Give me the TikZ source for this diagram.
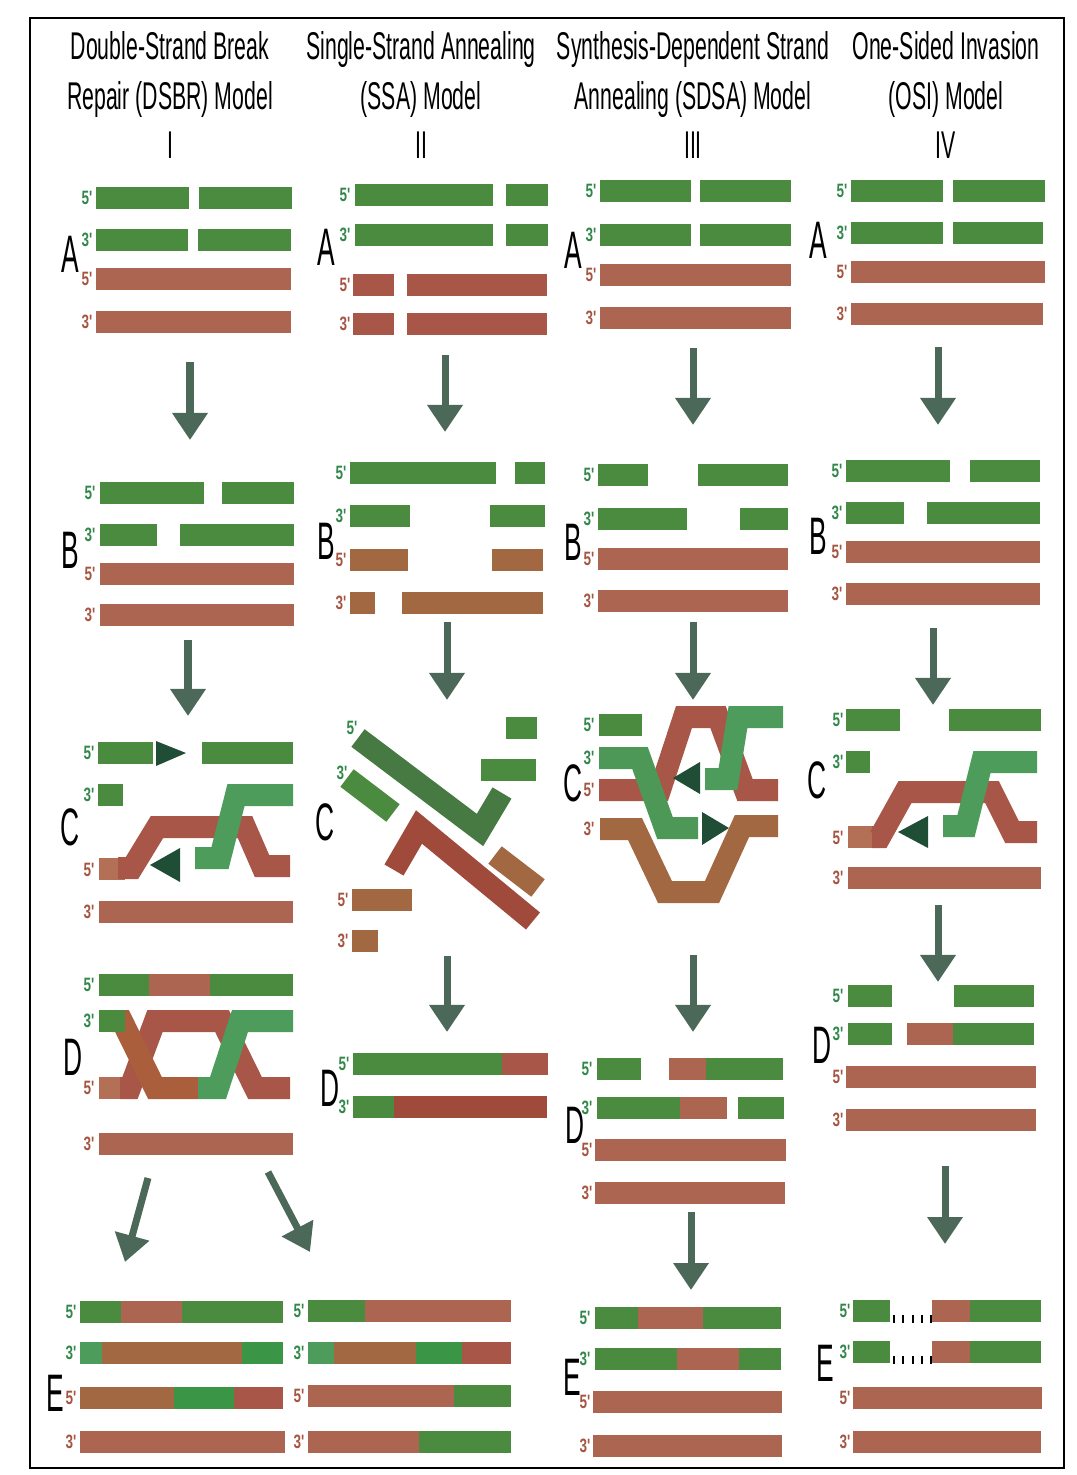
\documentclass[tikz,border=0pt]{standalone}
\usepackage{fontspec}
\usetikzlibrary{arrows.meta}
\newfontfamily\headfont[FakeStretch=0.55]{Liberation Sans}
\newfontfamily\stagefont[FakeStretch=0.5]{Liberation Sans}
\newfontfamily\endfont[FakeStretch=0.7]{Liberation Sans}
\definecolor{dnagreen}{RGB}{74,139,64}
\definecolor{invgreen}{RGB}{78,156,92}
\definecolor{brightgreen}{RGB}{58,150,70}
\definecolor{darkgreen}{RGB}{70,122,66}
\definecolor{dnabrown}{RGB}{171,101,80}
\definecolor{loopbrown}{RGB}{168,86,72}
\definecolor{tailbrown}{RGB}{180,112,86}
\definecolor{orangebrown}{RGB}{162,104,66}
\definecolor{redbrown}{RGB}{160,74,60}
\definecolor{tipgreen}{RGB}{31,77,53}
\definecolor{flowgray}{RGB}{76,104,88}
\definecolor{endgreen}{RGB}{50,135,75}
\definecolor{endbrown}{RGB}{165,85,65}
\tikzset{
	strand/.style={line width=0.22cm},
	flow/.style={line width=0.07cm,draw=flowgray,-{Triangle[width=0.34cm,length=0.27cm]}},
	head/.style={font=\headfont\fontsize{11}{14.2}\selectfont,align=center},
	stage/.style={font=\stagefont\fontsize{15}{18}\selectfont,inner sep=0pt},
	endg/.style={font=\endfont\bfseries\fontsize{5.5}{6}\selectfont,text=endgreen,anchor=east,inner sep=0pt},
	endb/.style={endg,text=endbrown},
}
\newcommand{\dna}[4]{\draw[strand,#1] (#2,#4) -- (#3,#4);}
\newcommand{\tip}[3]{\fill[tipgreen] #1 -- #2 -- #3 -- cycle;}
\newcommand{\strandends}[6]{%
	\node[endg] (#1g5) at (#2,#3) {5'};
	\node[endg] (#1g3) at (#2,#4) {3'};
	\node[endb] (#1b5) at (#2,#5) {5'};
	\node[endb] (#1b3) at (#2,#6) {3'};}
\begin{document}
\begin{tikzpicture}[x={(0.01cm,0)},y={(0,-0.01cm)}]
	\useasboundingbox (0,0) rectangle (1077,1475);
	\draw[line width=0.025cm] (30,18) rectangle (1064,1468);

	\node[head] (headI) at (170,95) {Double-Strand Break\\Repair (DSBR) Model\\I};
	\node[head] (headII) at (421,95) {Single-Strand Annealing\\(SSA) Model\\II};
	\node[head] (headIII) at (693,95) {Synthesis-Dependent Strand\\Annealing (SDSA) Model\\III};
	\node[head] (headIV) at (946,95) {One-Sided Invasion\\(OSI) Model\\IV};

	% model I
	\node[stage] (IA) at (70,254) {A};
	\dna{dnagreen}{96}{189}{198} \dna{dnagreen}{199}{292}{198}
	\dna{dnagreen}{96}{188}{240} \dna{dnagreen}{198}{291}{240}
	\dna{dnabrown}{96}{291}{279}
	\dna{dnabrown}{96}{291}{322}
	\strandends{IA}{93}{198}{240}{279}{322}
	\draw[flow] (190,362) -- (190,440);

	\node[stage] (IB) at (70,550) {B};
	\dna{dnagreen}{100}{204}{493} \dna{dnagreen}{222}{294}{493}
	\dna{dnagreen}{100}{157}{535} \dna{dnagreen}{180}{294}{535}
	\dna{dnabrown}{100}{294}{574}
	\dna{dnabrown}{100}{294}{615}
	\strandends{IB}{96}{493}{535}{574}{615}
	\draw[flow] (188,640) -- (188,716);

	\node[stage] (IC) at (70,827) {C};
	\dna{dnagreen}{98}{153}{753} \dna{dnagreen}{202}{293}{753}
	\tip{(156,741)}{(186,753)}{(156,766)}
	\dna{dnagreen}{98}{123}{795}
	\dna{tailbrown}{99}{125}{869}
	\draw[strand,loopbrown] (118,868) -- (132,868) -- (157,827) -- (245,827) -- (262,866) -- (290,866);
	\tip{(180,848)}{(150,865)}{(180,882)}
	\draw[strand,invgreen] (293,795) -- (236,795) -- (220,858) -- (195,858);
	\dna{dnabrown}{99}{293}{912}
	\strandends{IC}{95}{753}{795}{870}{912}

	\node[stage] (ID) at (73,1057) {D};
	\dna{dnagreen}{99}{149}{985} \dna{dnabrown}{149}{210}{985} \dna{dnagreen}{210}{293}{985}
	\dna{tailbrown}{99}{127}{1088}
	\draw[strand,loopbrown] (120,1088) -- (130,1088) -- (155,1021) -- (222,1021) -- (255,1088) -- (290,1088);
	\draw[strand,orangebrown!90!red] (112,1021) -- (122,1021) -- (155,1088) -- (198,1088);
	\dna{dnagreen}{99}{125}{1021}
	\draw[strand,invgreen] (198,1088) -- (218,1088) -- (240,1021) -- (293,1021);
	\dna{dnabrown}{99}{293}{1144}
	\strandends{ID}{95}{985}{1021}{1088}{1144}
	\draw[flow] (148,1178) -- (125,1262);
	\draw[flow] (268,1172) -- (310,1252);

	\node[stage] (IE) at (55,1393) {E};
	\dna{dnagreen}{80}{121}{1312} \dna{dnabrown}{121}{182}{1312} \dna{dnagreen}{182}{283}{1312}
	\dna{invgreen}{80}{102}{1353} \dna{orangebrown}{102}{242}{1353} \dna{brightgreen}{242}{283}{1353}
	\dna{orangebrown}{80}{174}{1398} \dna{brightgreen}{174}{234}{1398} \dna{loopbrown}{234}{283}{1398}
	\dna{dnabrown}{80}{285}{1442}
	\strandends{IEl}{77}{1312}{1353}{1398}{1442}
	\dna{dnagreen}{308}{365}{1311} \dna{dnabrown}{365}{511}{1311}
	\dna{invgreen}{308}{334}{1353} \dna{orangebrown}{334}{416}{1353} \dna{brightgreen}{416}{462}{1353} \dna{loopbrown}{462}{511}{1353}
	\dna{dnabrown}{308}{454}{1396} \dna{dnagreen}{454}{511}{1396}
	\dna{dnabrown}{308}{419}{1442} \dna{dnagreen}{419}{511}{1442}
	\strandends{IEr}{305}{1311}{1353}{1396}{1442}

	% model II
	\node[stage] (IIA) at (326,247) {A};
	\dna{dnagreen}{355}{493}{195} \dna{dnagreen}{506}{548}{195}
	\dna{dnagreen}{355}{493}{235} \dna{dnagreen}{506}{548}{235}
	\dna{loopbrown}{353}{394}{285} \dna{loopbrown}{407}{547}{285}
	\dna{loopbrown}{353}{394}{324} \dna{loopbrown}{407}{547}{324}
	\strandends{IIA}{351}{195}{235}{285}{324}
	\draw[flow] (445,355) -- (445,432);

	\node[stage] (IIB) at (326,541) {B};
	\dna{dnagreen}{350}{496}{473} \dna{dnagreen}{515}{545}{473}
	\dna{dnagreen}{350}{410}{516} \dna{dnagreen}{490}{545}{516}
	\dna{orangebrown}{350}{408}{560} \dna{orangebrown}{492}{543}{560}
	\dna{orangebrown}{350}{375}{603} \dna{orangebrown}{402}{543}{603}
	\strandends{IIB}{347}{473}{516}{560}{603}
	\draw[flow] (447,622) -- (447,700);

	\node[stage] (IIC) at (325,822) {C};
	\dna{dnagreen}{506}{537}{728}
	\dna{dnagreen}{481}{536}{770}
	\draw[strand,darkgreen] (358,738) -- (480,830) -- (502,793);
	\draw[strand,dnagreen] (347,778) -- (393,813);
	\draw[strand,redbrown] (394,870) -- (419,827) -- (533,921);
	\draw[strand,orangebrown] (495,855) -- (538,888);
	\dna{orangebrown}{352}{412}{900}
	\dna{orangebrown}{352}{378}{941}
	\node[endg] (IICg5) at (358,728) {5'};
	\node[endg] (IICg3) at (348,773) {3'};
	\node[endb] (IICb5) at (349,900) {5'};
	\node[endb] (IICb3) at (349,941) {3'};
	\draw[flow] (447,956) -- (447,1032);

	\node[stage] (IID) at (330,1088) {D};
	\dna{dnagreen}{353}{502}{1064} \dna{loopbrown}{502}{548}{1064}
	\dna{dnagreen}{353}{394}{1107} \dna{redbrown}{394}{547}{1107}
	\node[endg] (IIDg5) at (350,1064) {5'};
	\node[endg] (IIDg3) at (350,1107) {3'};

	% model III
	\node[stage] (IIIA) at (573,250) {A};
	\dna{dnagreen}{600}{691}{191} \dna{dnagreen}{700}{791}{191}
	\dna{dnagreen}{600}{691}{235} \dna{dnagreen}{700}{791}{235}
	\dna{dnabrown}{600}{791}{275}
	\dna{dnabrown}{600}{791}{318}
	\strandends{IIIA}{597}{191}{235}{275}{318}
	\draw[flow] (693,348) -- (693,425);

	\node[stage] (IIIB) at (573,542) {B};
	\dna{dnagreen}{598}{648}{475} \dna{dnagreen}{698}{788}{475}
	\dna{dnagreen}{598}{687}{519} \dna{dnagreen}{740}{788}{519}
	\dna{dnabrown}{598}{788}{559}
	\dna{dnabrown}{598}{788}{601}
	\strandends{IIIB}{595}{475}{519}{559}{601}
	\draw[flow] (693,622) -- (693,700);

	\node[stage] (IIIC) at (573,783) {C};
	\dna{dnagreen}{599}{642}{725}
	\draw[strand,loopbrown] (599,790) -- (660,790) -- (684,717) -- (718,717) -- (745,790) -- (778,790);
	\draw[strand,orangebrown] (600,829) -- (635,829) -- (665,892) -- (712,892) -- (742,826) -- (778,826);
	\draw[strand,invgreen!80!dnagreen] (599,758) -- (640,758) -- (665,828) -- (698,828);
	\tip{(702,812)}{(729,828)}{(702,845)}
	\draw[strand,invgreen] (783,717) -- (738,717) -- (728,779) -- (705,779);
	\tip{(700,762)}{(673,778)}{(700,794)}
	\strandends{IIIC}{595}{725}{758}{790}{829}
	\draw[flow] (693,955) -- (693,1032);

	\node[stage] (IIID) at (575,1125) {D};
	\dna{dnagreen}{597}{641}{1069} \dna{dnabrown}{669}{706}{1069} \dna{dnagreen}{706}{783}{1069}
	\dna{dnagreen}{597}{680}{1108} \dna{dnabrown}{680}{727}{1108} \dna{dnagreen}{738}{784}{1108}
	\dna{dnabrown}{595}{786}{1150}
	\dna{dnabrown}{595}{785}{1193}
	\strandends{IIID}{593}{1069}{1108}{1150}{1193}
	\draw[flow] (691,1212) -- (691,1290);

	\node[stage] (IIIE) at (572,1377) {E};
	\dna{dnagreen}{595}{638}{1318} \dna{dnabrown}{638}{703}{1318} \dna{dnagreen}{703}{781}{1318}
	\dna{dnagreen}{595}{677}{1359} \dna{dnabrown}{677}{739}{1359} \dna{dnagreen}{739}{781}{1359}
	\dna{dnabrown}{593}{782}{1402}
	\dna{dnabrown}{593}{782}{1446}
	\strandends{IIIE}{591}{1318}{1359}{1402}{1446}

	% model IV
	\node[stage] (IVA) at (818,240) {A};
	\dna{dnagreen}{851}{943}{191} \dna{dnagreen}{953}{1045}{191}
	\dna{dnagreen}{851}{943}{233} \dna{dnagreen}{953}{1043}{233}
	\dna{dnabrown}{851}{1045}{272}
	\dna{dnabrown}{851}{1043}{314}
	\strandends{IVA}{848}{191}{233}{272}{314}
	\draw[flow] (938,347) -- (938,425);

	\node[stage] (IVB) at (818,536) {B};
	\dna{dnagreen}{846}{950}{471} \dna{dnagreen}{970}{1040}{471}
	\dna{dnagreen}{846}{904}{513} \dna{dnagreen}{927}{1040}{513}
	\dna{dnabrown}{846}{1040}{552}
	\dna{dnabrown}{846}{1040}{594}
	\strandends{IVB}{843}{471}{513}{552}{594}
	\draw[flow] (933,628) -- (933,705);

	\node[stage] (IVC) at (817,780) {C};
	\dna{dnagreen}{846}{900}{720} \dna{dnagreen}{949}{1041}{720}
	\dna{dnagreen}{846}{870}{762}
	\dna{tailbrown}{848}{880}{837}
	\draw[strand,loopbrown] (872,837) -- (880,837) -- (905,792) -- (992,792) -- (1012,832) -- (1037,832);
	\tip{(928,816)}{(898,832)}{(928,848)}
	\draw[strand,invgreen] (1037,762) -- (982,762) -- (966,826) -- (943,826);
	\dna{dnabrown}{848}{1041}{878}
	\strandends{IVC}{844}{720}{762}{838}{878}
	\draw[flow] (938,905) -- (938,982);

	\node[stage] (IVD) at (822,1045) {D};
	\dna{dnagreen}{848}{892}{996} \dna{dnagreen}{954}{1034}{996}
	\dna{dnagreen}{848}{892}{1034} \dna{dnabrown}{907}{953}{1034} \dna{dnagreen}{953}{1034}{1034}
	\dna{dnabrown}{846}{1036}{1077}
	\dna{dnabrown}{846}{1036}{1120}
	\strandends{IVD}{844}{996}{1034}{1077}{1120}
	\draw[flow] (945,1166) -- (945,1244);

	\node[stage] (IVE) at (825,1363) {E};
	\foreach \y in {1311,1352}{
		\dna{dnagreen}{853}{890}{\y} \dna{dnabrown}{932}{970}{\y} \dna{dnagreen}{970}{1041}{\y}
		\foreach \x in {894,903,913,922,931}
			\draw[line width=0.02cm] (\x,\y+4) -- (\x,\y+12);
	}
	\dna{dnabrown}{853}{1042}{1398}
	\dna{dnabrown}{853}{1041}{1442}
	\strandends{IVE}{851}{1311}{1352}{1398}{1442}
\end{tikzpicture}
\end{document}
